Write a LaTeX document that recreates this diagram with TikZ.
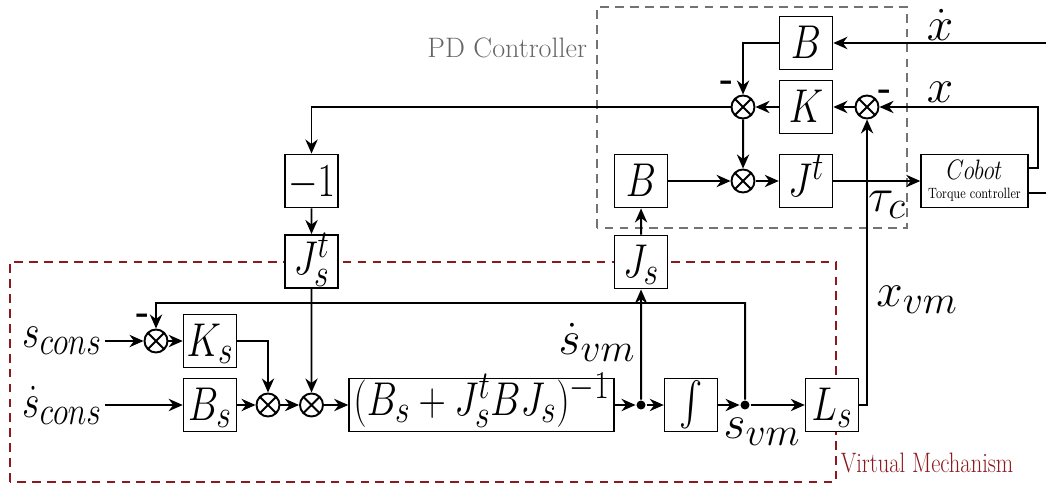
\RequirePackage{fix-cm}
\documentclass[tikz,border=0pt]{standalone}
\usepackage{exscale}
\usetikzlibrary{arrows.meta}
\DeclareMathSizes{27}{27}{22.5}{18}
\definecolor{vmred}{RGB}{140,25,30}
\begin{document}
\begin{tikzpicture}[xscale=0.8,line width=1.1pt,>={Stealth[length=8pt,width=7pt]},
  every node/.style={font=\fontsize{27}{32}\selectfont},
  blk/.style={draw,fill=white,transform shape,minimum width=1.325cm,minimum height=1.06cm,inner sep=0pt,text height=0.84cm,text depth=0.22cm},
  sum/.style={draw,circle,fill=white,minimum size=0.46cm,inner sep=0pt,
    path picture={\draw (path picture bounding box.north west) -- (path picture bounding box.south east)
      (path picture bounding box.north east) -- (path picture bounding box.south west);}},
  junc/.style={circle,fill,minimum size=0.18cm,inner sep=0pt},
  sig/.style={inner sep=2pt},
  sq/.style={transform shape,inner sep=2pt},
  mns/.style={font=\fontsize{20}{20}\selectfont\bfseries,inner sep=0pt},
  pdbox/.style={draw=black!55,line width=1pt,dash pattern=on 5pt off 3.5pt},
  vmbox/.style={draw=vmred,line width=1.2pt,dash pattern=on 5pt off 3.5pt}]
\useasboundingbox (0,0) rectangle (26.15,9.72);
\draw[pdbox] (14.925,5.16) rectangle (22.675,9.58);
\draw[vmbox] (0.25,0.08) rectangle (20.9,4.48);
\node[anchor=east,inner sep=0pt,text=black!60,font=\fontsize{16}{18}\selectfont] (pdl) at (14.7,8.76) {PD Controller};
\node[sq,anchor=west,inner sep=0pt,text=vmred,font=\fontsize{16}{18}\selectfont] (vml) at (21.0,0.46) {Virtual Mechanism};
\node[blk] (Bx) at (20.15,8.86) {$B$};
\node[blk] (Kp) at (20.15,7.58) {$K$};
\node[blk] (Jt) at (20.15,6.10) {$J^t$};
\node[blk] (Bp) at (16.025,6.10) {$B$};
\node[sum] (s1) at (18.575,7.58) {};
\node[sum] (s2) at (21.675,7.58) {};
\node[sum] (s3) at (18.575,6.10) {};
\node[blk,minimum width=2.675cm,text height={},text depth={},align=center,font=\fontsize{8.5}{11}\selectfont] (cob) at (24.3625,6.10) {{\fontsize{16}{16}\selectfont$Cobot$}\\Torque controller};
\node[blk] (neg) at (7.7875,6.10) {$-1$};
\node[blk,text height=0.8cm,text depth=0.26cm] (Jst) at (7.7875,4.49) {$J_s^t$};
\node[blk] (Js) at (16.025,4.48) {$J_s$};
\node[sum] (sc) at (3.9,2.90) {};
\node[blk] (Ks) at (5.25,2.90) {$K_s$};
\node[blk] (Bs) at (5.25,1.62) {$B_s$};
\node[sum] (sa) at (6.7,1.62) {};
\node[sum] (sb) at (7.7875,1.62) {};
\node[blk,minimum width=6.625cm,text height=0.74cm,text depth=0.32cm] (Minv) at (12.0375,1.62) {$(B_s+J_s^tBJ_s)^{-1}$};
\node[junc] (d1) at (16.025,1.62) {};
\node[blk,text height={},text depth={}] (Int) at (17.275,1.62) {$\int$};
\node[junc] (d2) at (18.625,1.62) {};
\node[blk] (Ls) at (20.8,1.62) {$L_s$};
\node[sig] (xdl) at (23.5,9.22) {$\dot x$};
\node[sig] (xl) at (23.5,7.88) {$x$};
\node[sig] (tcl) at (22.175,5.62) {$\tau_c$};
\node[sig] (xvml) at (22.925,3.72) {$x_{vm}$};
\node[sig] (svdl) at (14.925,2.88) {$\dot s_{vm}$};
\node[sig] (svl) at (19.05,1.08) {$s_{vm}$};
\node[sq] (scl) at (1.55,2.90) {$s_{cons}$};
\node[sq] (sdcl) at (1.55,1.62) {$\dot s_{cons}$};
\node[mns] (m1) at (18.175,8.0) {-};
\node[mns] (m2) at (22.125,7.82) {-};
\node[mns] (m3) at (3.575,3.34) {-};
\coordinate (xin) at (26.15,8.86);
\coordinate (xr) at (25.95,7.58);
\coordinate (tqout) at (26.15,5.86);
\coordinate (fb) at (18.625,3.66);
\draw[->] (xin) -- (Bx);
\draw[->] (Bx) -| (s1);
\draw[->] (Kp) -- (s1);
\draw[->] (s2) -- (Kp);
\draw[->] ([yshift=0.26cm]cob.east) -| (xr) -- (s2);
\draw ([yshift=-0.24cm]cob.east) -- (tqout);
\draw[->] (s1) -- (s3);
\draw[->] (s1) -| (neg);
\draw[->] (Bp) -- (s3);
\draw[->] (s3) -- (Jt);
\draw[->] (Jt) -- (cob);
\draw[->] (neg) -- (Jst);
\draw[->] (Jst) -- (sb);
\draw[->] (scl) -- (sc);
\draw[->] (sc) -- (Ks);
\draw[->] (Ks) -| (sa);
\draw[->] (sdcl) -- (Bs);
\draw[->] (Bs) -- (sa);
\draw[->] (sa) -- (sb);
\draw[->] (sb) -- (Minv);
\draw[->] (Minv) -- (d1);
\draw[->] (d1) -- (Int);
\draw[->] (Int) -- (d2);
\draw[->] (d2) -- (Ls);
\draw[->] (d1) -- (Js);
\draw[->] (Js) -- (Bp);
\draw[->] (d2) -- (fb) -| (sc);
\draw[->] (Ls) -| (s2);
\end{tikzpicture}
\end{document}
